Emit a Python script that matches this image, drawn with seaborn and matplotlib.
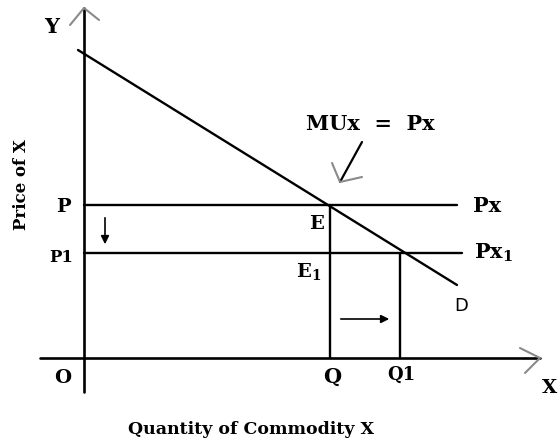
import matplotlib
matplotlib.use("Agg")
import matplotlib.pyplot as plt
import pandas as pd
import seaborn as sns

# price levels and quantities (origin at O)
priceLevels = {"P": 153, "P1": 105}
quantities = {"Q": 246, "Q1": 316}

# demand curve D end points
demandX = [-6, 373]
demandY = [308, 73]

# price lines Px and Px1 lengths
priceLineEnd = {"P": 373, "P1": 378}

sns.set_style("white")
plt.rcParams['font.family'] = ['DejaVu Serif', 'DejaVu Sans']
plt.rcParams['text.color'] = "black"
plt.rcParams['mathtext.fontset'] = "dejavuserif"

fig = plt.figure(figsize=(5.58, 4.43), dpi=100)
ax = fig.add_axes([0, 0, 1, 1])
ax.set_xlim(-84, 474)
ax.set_ylim(-85, 358)
ax.axis("off")

axisCol = "black"
greyCol = "#8a8a8a"

# axes
ax.plot([0, 0], [-34, 350], color=axisCol, lw=1.9)
ax.plot([-44, 456], [0, 0], color=axisCol, lw=1.9)
# open arrow heads on axes
ax.plot([-14, 0, 15], [333, 350, 338], color=greyCol, lw=1.5)
ax.plot([436, 456, 441], [10, 0, -15], color=greyCol, lw=1.5)

# demand curve
dfD = pd.DataFrame({"x": demandX, "y": demandY})
sns.lineplot(data=dfD, x="x", y="y", color="black", lw=1.7, ax=ax)

# price lines
for name, level in priceLevels.items():
    dfP = pd.DataFrame({"x": [0, priceLineEnd[name]], "y": [level, level]})
    sns.lineplot(data=dfP, x="x", y="y", color="black", lw=1.7, ax=ax)

# verticals from equilibrium points
ax.plot([quantities["Q"]] * 2, [0, priceLevels["P"]], color="black", lw=1.7)
ax.plot([quantities["Q1"]] * 2, [0, priceLevels["P1"]], color="black", lw=1.7)

# price fall arrow and quantity rise arrow
ax.annotate("", xy=(21, 111), xytext=(21, 143),
            arrowprops=dict(arrowstyle="-|>", color="black", lw=1.2, mutation_scale=12))
ax.annotate("", xy=(308, 39), xytext=(254, 39),
            arrowprops=dict(arrowstyle="-|>", color="black", lw=1.2, mutation_scale=12))

# MUx = Px pointer
ax.plot([278, 256], [216, 176], color="black", lw=1.6)
ax.plot([248, 256, 278], [195, 176, 181], color=greyCol, lw=1.5)

bold = dict(fontweight="bold", ha="center", va="center", color="black")
ax.text(-32, 331, "Y", fontsize=15, **bold)
ax.text(-21, 151, "P", fontsize=14, **bold)
ax.text(-23, 100, "P1", fontsize=12, **bold)
ax.text(-21, -20, "O", fontsize=14, **bold)
ax.text(248, -19, "Q", fontsize=15, **bold)
ax.text(317, -17, "Q1", fontsize=13, **bold)
ax.text(466, -30, "X", fontsize=14, **bold)
ax.text(232, 134, "E", fontsize=14, **bold)
ax.text(225, 87, "E$_{\\mathbf{1}}$", fontsize=14, **bold)
ax.text(403, 152, "Px", fontsize=15, **bold)
ax.text(410, 105, "Px$_{\\mathbf{1}}$", fontsize=15, **bold)
ax.text(377, 52, "D", fontsize=13, family="DejaVu Sans", ha="center", va="center", color="black")
ax.text(286, 234, "MUx  =  Px", fontsize=15, **bold)
ax.text(-62, 173, "Price of X", fontsize=12, rotation=90, **bold)
ax.text(167, -72, "Quantity of Commodity X", fontsize=12.5, **bold)

fig.savefig("out.png", dpi=100)
